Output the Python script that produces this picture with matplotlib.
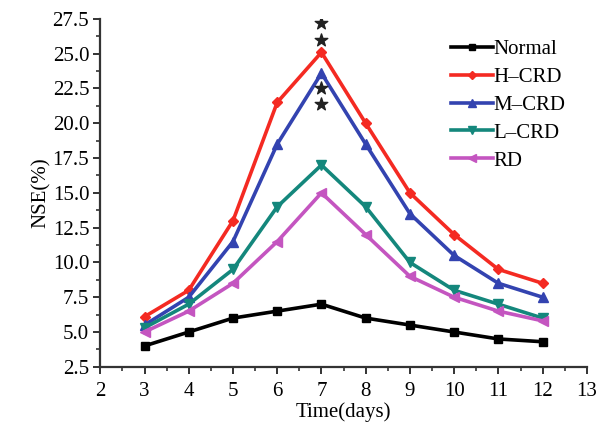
import matplotlib
matplotlib.use("Agg")
import matplotlib.pyplot as plt
from matplotlib.ticker import MultipleLocator

days = [3, 4, 5, 6, 7, 8, 9, 10, 11, 12]
normal = [4.0, 5.0, 6.0, 6.5, 7.0, 6.0, 5.5, 5.0, 4.5, 4.3]
h_crd = [6.1, 8.0, 13.0, 21.5, 25.1, 20.0, 15.0, 12.0, 9.5, 8.5]
m_crd = [5.5, 7.5, 11.5, 18.5, 23.6, 18.5, 13.5, 10.5, 8.5, 7.5]
l_crd = [5.3, 7.0, 9.5, 14.0, 17.0, 14.0, 10.0, 8.0, 7.0, 6.0]
rd = [5.0, 6.5, 8.5, 11.5, 15.0, 12.0, 9.0, 7.5, 6.5, 5.8]

# significance stars at day 7
star_x = [7, 7, 7, 7]
star_y = [27.2, 26.0, 22.5, 21.4]

plt.rcParams['font.family'] = ['Liberation Serif', 'DejaVu Serif']

fig = plt.figure(figsize=(5.97, 4.30), dpi=100)
ax = fig.add_axes([0.168, 0.147, 0.815, 0.809])

series = [
    ('Normal', normal, 'black', 's', 6),
    ('H\u2013CRD', h_crd, '#f42a22', 'D', 5),
    ('M\u2013CRD', m_crd, '#3343b0', '^', 7),
    ('L\u2013CRD', l_crd, '#14877c', 'v', 7),
    ('RD', rd, '#c455c0', '<', 7),
]
for name, vals, color, mk, ms in series:
    ax.plot(days, vals, color=color, lw=2.6, marker=mk, ms=ms, label=name)

ax.scatter(star_x, star_y, marker='*', s=90, color='#222222', zorder=5)

ax.set_xlim(2, 13)
ax.set_ylim(2.5, 27.5)
ax.xaxis.set_major_locator(MultipleLocator(1))
ax.xaxis.set_minor_locator(MultipleLocator(0.5))
ax.yaxis.set_major_locator(MultipleLocator(2.5))
ax.yaxis.set_minor_locator(MultipleLocator(1.25))
ax.yaxis.set_major_formatter(matplotlib.ticker.FormatStrFormatter('%.1f'))

for s in ['top', 'right']:
    ax.spines[s].set_visible(False)
for s in ['left', 'bottom']:
    ax.spines[s].set_linewidth(1.6)
    ax.spines[s].set_color('#333333')

ax.tick_params(which='major', length=5, width=1.4, labelsize=15, color='#333333')
ax.tick_params(which='minor', length=3, width=1.2, color='#333333')
ax.tick_params(axis='y', which='both', pad=3)
ax.tick_params(axis='x', which='both', pad=6)

ax.set_xlabel('Time(days)', fontsize=15, labelpad=1)
ax.set_ylabel('NSE(%)', fontsize=15, labelpad=1)

ax.legend(loc='upper right', bbox_to_anchor=(0.995, 0.995), frameon=False,
          fontsize=15, handlelength=2.0, handletextpad=0.05,
          labelspacing=0.4, markerscale=0.8)

fig.savefig('out.png', dpi=100)
